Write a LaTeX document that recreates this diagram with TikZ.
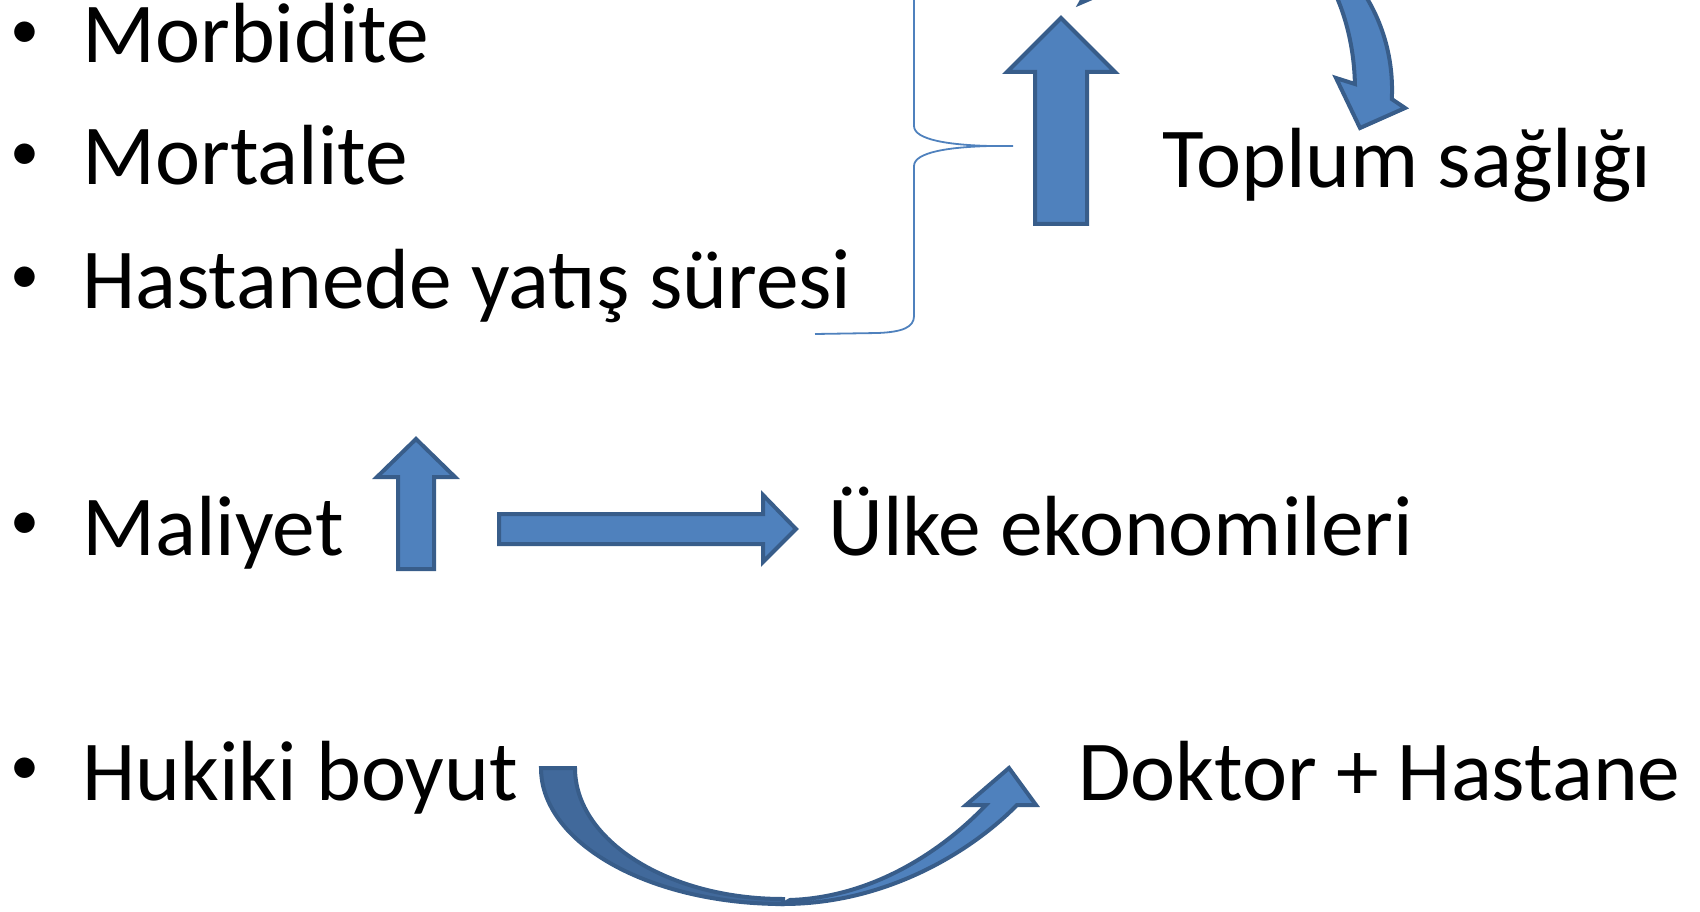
\documentclass[tikz,border=0pt]{standalone}
\usepackage{fontspec}
\setmainfont{Carlito}
\definecolor{accfill}{HTML}{4F81BD}
\definecolor{accline}{HTML}{385D8A}
\definecolor{accdark}{HTML}{41699B}
\begin{document}
\begin{tikzpicture}[x=1pt,y=-1pt,
  lbl/.style={anchor=base west, inner sep=0pt, font=\fontsize{85.4}{100}\selectfont},
  bul/.style={anchor=center, inner sep=0pt, font=\fontsize{58}{70}\selectfont},
  blockarrow/.style={fill=accfill, draw=accline, line width=4pt, line join=miter},
  darkarrow/.style={blockarrow, fill=accdark},
  bracket/.style={draw=accfill, line width=1.8pt}]
\useasboundingbox (0,0) rectangle (1700,912);

% texts
\node[bul] (b1) at (25,35) {•};
\node[lbl] (t1) at (82,63) {Morbidite};
\node[bul] (b2) at (25,157) {•};
\node[lbl] (t2) at (82,185) {Mortalite};
\node[bul] (b3) at (25,280) {•};
\node[lbl] (t3) at (82,308) {Hastanede yatış süresi};
\node[bul] (b4) at (25,526) {•};
\node[lbl] (t4) at (82,555) {Maliyet};
\node[bul] (b5) at (25,771) {•};
\node[lbl] (t5) at (82,800) {Hukiki boyut};
\node[lbl] (r1) at (1162,188) {Toplum sağlığı};
\node[lbl] (r2) at (828,555) {Ülke ekonomileri};
\node[lbl] (r3) at (1078,800) {Doktor + Hastane};

% big up arrow
\path[blockarrow] (1061,18) -- (1115,72) -- (1087,72) -- (1087,224) -- (1035,224) -- (1035,72) -- (1007,72) -- cycle;
% small up arrow
\path[blockarrow] (416,439) -- (455,477) -- (434,477) -- (434,569) -- (398,569) -- (398,477) -- (377,477) -- cycle;
% right arrow
\path[blockarrow] (499,514) -- (763,514) -- (763,495) -- (796,529) -- (763,562) -- (763,544) -- (499,544) -- cycle;

% bottom curved arrow
\path[darkarrow] (541,768) arc[start angle=180, end angle=90, x radius=242, y radius=136] -- (783,899) arc[start angle=90, end angle=180, x radius=208, y radius=131] -- cycle;
\path[blockarrow] (783,904) .. controls (890,904) and (975,848) .. (1017,805) -- (1036,805) -- (1009,768) -- (966,805) -- (986,805) .. controls (950,843) and (880,897) .. (790,900) -- cycle;

\begin{scope}
\clip (0,0) rectangle (1700,912);
% top curved arrow (mostly outside the frame)
\path[blockarrow] (1391.8,99.1) arc[start angle=3, end angle=-150, x radius=167, y radius=174] -- (1157.7,-30.1) arc[start angle=-135.7, end angle=-2, x radius=115, y radius=172] -- (1336,78) -- (1360,128) -- (1405,108) -- cycle;
% brace
\draw[bracket] (815,-42) -- (878,-41) .. controls (903,-40) and (914,-35) .. (914,-24) -- (914,126) .. controls (914,140) and (950,145) .. (990,146) -- (1013,146)
  (990,146) .. controls (950,147) and (914,152) .. (914,166) -- (914,316) .. controls (914,327) and (903,332) .. (878,333) -- (815,334);
\end{scope}
\end{tikzpicture}
\end{document}
